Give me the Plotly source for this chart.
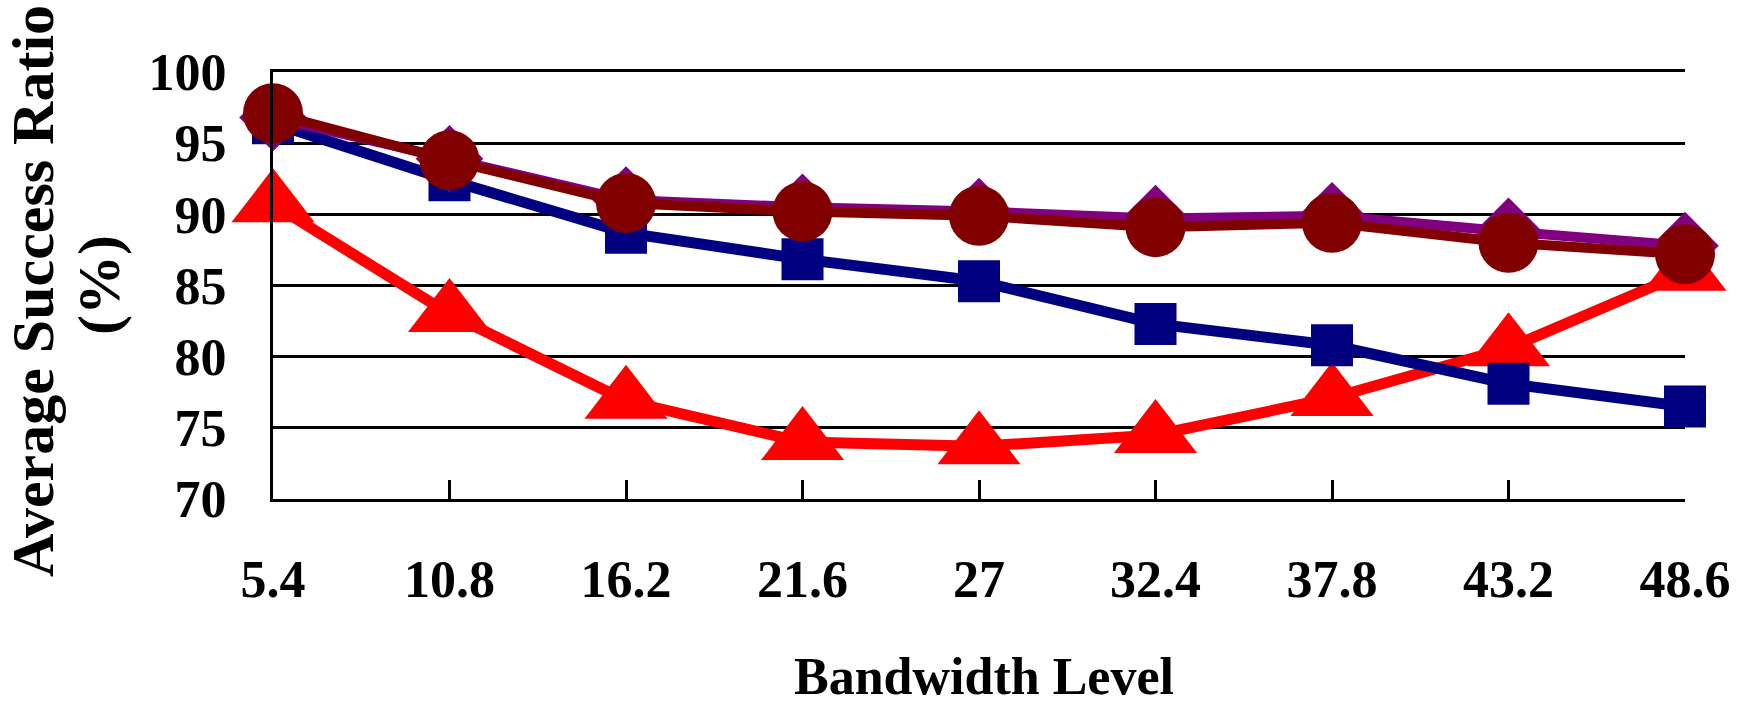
import plotly.graph_objects as go

bandwidth_levels = ["5.4", "10.8", "16.2", "21.6", "27", "32.4", "37.8", "43.2", "48.6"]
red_triangle = [90.7, 83.0, 76.9, 74.0, 73.7, 74.5, 77.1, 80.6, 85.9]
navy_square = [96.4, 92.4, 88.7, 86.85, 85.3, 82.3, 80.8, 78.1, 76.5]
purple_diamond = [96.8, 93.9, 91.0, 90.5, 90.2, 89.7, 89.9, 88.8, 87.8]
maroon_circle = [97.1, 93.8, 90.8, 90.2, 89.9, 89.1, 89.4, 88.0, 87.2]
y_ticks = [70, 75, 80, 85, 90, 95, 100]

FONT = "Liberation Serif"
W, H = 1745, 705
L, R, T, B = 273, 60, 72, 206

fig = go.Figure()

def add(vals, color, symbol, size, lw):
    fig.add_trace(go.Scatter(
        x=bandwidth_levels, y=vals, mode="lines+markers",
        line=dict(color=color, width=lw),
        marker=dict(symbol=symbol, size=size, color=color, line=dict(width=0)),
        cliponaxis=False, showlegend=False,
    ))

add(red_triangle, "#FF0000", "triangle-up", 72, 11)
add(navy_square, "#000080", "square", 42, 11)
add(purple_diamond, "#800080", "diamond", 52, 10)
add(maroon_circle, "#800000", "circle", 60, 10)

tickfont = dict(family=FONT, size=52, color="black", weight="bold")

fig.update_layout(
    width=W, height=H,
    margin=dict(l=L, r=R, t=T, b=B, autoexpand=False),
    paper_bgcolor="white", plot_bgcolor="white",
    xaxis=dict(
        type="category", categoryarray=bandwidth_levels, range=[0, 8],
        showline=True, linecolor="black", linewidth=3, mirror=True,
        ticks="inside", ticklen=19, tickwidth=3, tickcolor="black",
        showgrid=False, zeroline=False, tickfont=tickfont,
        ticklabelstandoff=33, automargin=False,
    ),
    yaxis=dict(
        range=[70, 100], tickvals=y_ticks, ticktext=[str(v) for v in y_ticks],
        showline=True, linecolor="black", linewidth=3,
        showgrid=True, gridcolor="black", gridwidth=3,
        zeroline=False, ticks="", tickfont=tickfont,
        ticklabelstandoff=33, automargin=False,
    ),
)

titlefont = dict(family=FONT, size=60, color="black", weight="bold")
cy = T + (H - T - B) / 2
fig.add_annotation(text="Average Success Ratio", xref="paper", yref="paper",
                   x=0, y=0.5, xshift=33 - L, yshift=-(291 - cy),
                   textangle=-90, showarrow=False, font=titlefont,
                   xanchor="center", yanchor="middle")
fig.add_annotation(text="(%)", xref="paper", yref="paper",
                   x=0, y=0.5, xshift=99 - L, yshift=-(285 - cy),
                   textangle=-90, showarrow=False, font=titlefont,
                   xanchor="center", yanchor="middle")
fig.add_annotation(text="Bandwidth Level", xref="paper", yref="paper",
                   x=0.5, y=0, xshift=984 - (L + (W - L - R) / 2), yshift=-(676 - (H - B)),
                   showarrow=False, font=dict(family=FONT, size=52, color="black", weight="bold"),
                   xanchor="center", yanchor="middle")

fig.write_html("out.html", config={"displayModeBar": False},
               post_script="document.body.style.margin='0';document.body.style.overflow='hidden';")
